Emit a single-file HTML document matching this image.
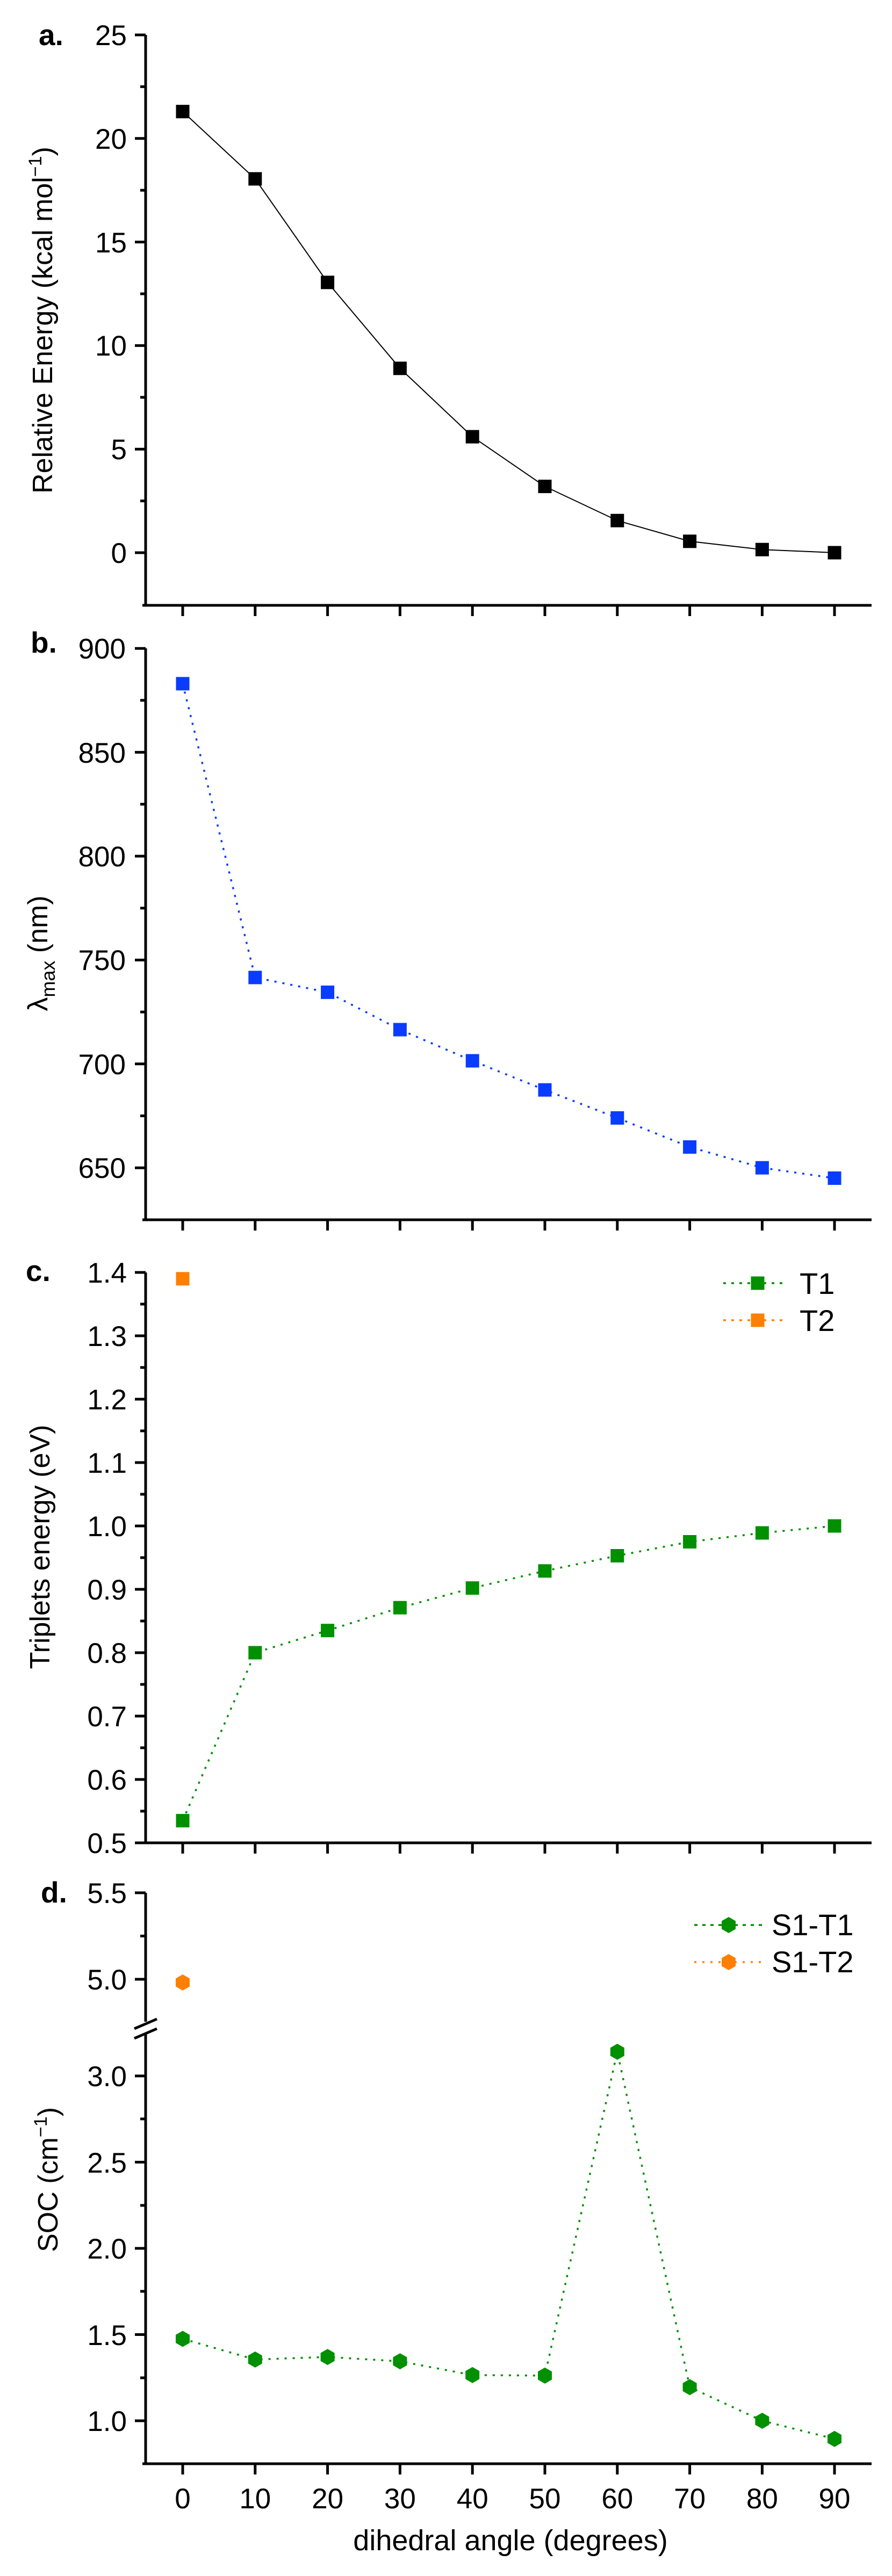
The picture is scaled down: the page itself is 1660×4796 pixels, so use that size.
<!DOCTYPE html>
<html><head><meta charset="utf-8"><style>
html,body{margin:0;padding:0;background:#fff}
svg{display:block}
text{font-family:"Liberation Sans",Arial,sans-serif;fill:#000}
.t{font-size:53px;text-anchor:end}
.x{font-size:53px;text-anchor:middle}
.lb{font-size:55px;font-weight:bold}
.ti{font-size:52px;text-anchor:middle}
.lg{font-size:56px}
</style></head><body>
<svg width="1660" height="4796" viewBox="0 0 1660 4796" xmlns="http://www.w3.org/2000/svg">
<rect width="1660" height="4796" fill="#fff"/>
<g stroke="#000" stroke-width="5" fill="none">
<!-- Panel a axes -->
<path d="M271 65V1127M265 1127H1622"/>
<path d="M251 65H271M251 257.8H271M251 450.6H271M251 643.4H271M251 836.2H271M251 1029H271"/>
<path d="M261 161.4H271M261 354.2H271M261 547H271M261 739.8H271M261 932.6H271"/>
<path d="M340 1127v20M474.8 1127v20M609.6 1127v20M744.4 1127v20M879.2 1127v20M1014 1127v20M1148.8 1127v20M1283.6 1127v20M1418.4 1127v20M1553 1127v20"/>
<!-- Panel b -->
<path d="M271 1207V2271M265 2271H1622"/>
<path d="M251 1207.2H271M251 1400.6H271M251 1594H271M251 1787.4H271M251 1980.8H271M251 2174.2H271"/>
<path d="M261 1303.9H271M261 1497.3H271M261 1690.7H271M261 1884.1H271M261 2077.5H271"/>
<path d="M340 2271v20M474.8 2271v20M609.6 2271v20M744.4 2271v20M879.2 2271v20M1014 2271v20M1148.8 2271v20M1283.6 2271v20M1418.4 2271v20M1553 2271v20"/>
<!-- Panel c -->
<path d="M271 2369V3431M265 3431H1622"/>
<path d="M251 2369H271M251 2487H271M251 2605H271M251 2723H271M251 2841H271M251 2959H271M251 3077H271M251 3195H271M251 3313H271M251 3431H271"/>
<path d="M261 2428H271M261 2546H271M261 2664H271M261 2782H271M261 2900H271M261 3018H271M261 3136H271M261 3254H271M261 3372H271"/>
<path d="M340 3431v20M474.8 3431v20M609.6 3431v20M744.4 3431v20M879.2 3431v20M1014 3431v20M1148.8 3431v20M1283.6 3431v20M1418.4 3431v20M1553 3431v20"/>
<!-- Panel d -->
<path d="M271 3524V3764M271 3786V4587M265 4587H1622"/>
<path d="M250 3777L292 3759M250 3795L292 3777"/>
<path d="M251 3524H271M251 3685H271M261 3604.5H271"/>
<path d="M251 3865H271M251 4025.5H271M251 4186H271M251 4346.5H271M251 4507H271"/>
<path d="M261 3945H271M261 4106H271M261 4266H271M261 4427H271"/>
<path d="M340 4587v20M474.8 4587v20M609.6 4587v20M744.4 4587v20M879.2 4587v20M1014 4587v20M1148.8 4587v20M1283.6 4587v20M1418.4 4587v20M1553 4587v20"/>
</g>

<!-- Panel a data -->
<polyline fill="none" stroke="#000" stroke-width="2" points="340,207.7 474.8,333 609.6,525.8 744.4,685.8 879.2,813.1 1014,905.6 1148.8,969.2 1283.6,1007.8 1418.4,1023.2 1553,1029"/>
<g fill="#000">
<rect x="327.5" y="195.2" width="25" height="25"/><rect x="462.3" y="320.5" width="25" height="25"/><rect x="597.1" y="513.3" width="25" height="25"/><rect x="731.9" y="673.3" width="25" height="25"/><rect x="866.7" y="800.6" width="25" height="25"/><rect x="1001.5" y="893.1" width="25" height="25"/><rect x="1136.3" y="956.7" width="25" height="25"/><rect x="1271.1" y="995.3" width="25" height="25"/><rect x="1405.9" y="1010.7" width="25" height="25"/><rect x="1540.5" y="1016.5" width="25" height="25"/>
</g>

<!-- Panel b data -->
<polyline fill="none" stroke="#0a3cff" stroke-width="3.5" stroke-dasharray="4 11" points="340,1272.9 474.8,1819.9 609.6,1847.4 744.4,1917 879.2,1975 1014,2029.2 1148.8,2081.4 1283.6,2135.5 1418.4,2174.2 1553,2193.5"/>
<g fill="#0a3cff">
<rect x="327.5" y="1260.4" width="25" height="25"/><rect x="462.3" y="1807.4" width="25" height="25"/><rect x="597.1" y="1834.9" width="25" height="25"/><rect x="731.9" y="1904.5" width="25" height="25"/><rect x="866.7" y="1962.5" width="25" height="25"/><rect x="1001.5" y="2016.7" width="25" height="25"/><rect x="1136.3" y="2068.9" width="25" height="25"/><rect x="1271.1" y="2123" width="25" height="25"/><rect x="1405.9" y="2161.7" width="25" height="25"/><rect x="1540.5" y="2181" width="25" height="25"/>
</g>

<!-- Panel c data -->
<polyline fill="none" stroke="#009000" stroke-width="3.5" stroke-dasharray="4 11" points="340,3389.7 474.8,3077 609.6,3035.7 744.4,2993.2 879.2,2956.6 1014,2924.8 1148.8,2896.5 1283.6,2870.5 1418.4,2854 1553,2841"/>
<g fill="#009000">
<rect x="327.5" y="3377.2" width="25" height="25"/><rect x="462.3" y="3064.5" width="25" height="25"/><rect x="597.1" y="3023.2" width="25" height="25"/><rect x="731.9" y="2980.7" width="25" height="25"/><rect x="866.7" y="2944.1" width="25" height="25"/><rect x="1001.5" y="2912.3" width="25" height="25"/><rect x="1136.3" y="2884" width="25" height="25"/><rect x="1271.1" y="2858" width="25" height="25"/><rect x="1405.9" y="2841.5" width="25" height="25"/><rect x="1540.5" y="2828.5" width="25" height="25"/>
</g>
<rect x="327.5" y="2368.3" width="25" height="25" fill="#ff8000"/>
<!-- legend c -->
<line x1="1346" y1="2389" x2="1462" y2="2389" stroke="#009000" stroke-width="3.5" stroke-dasharray="5 10"/>
<rect x="1397.5" y="2376.5" width="25" height="25" fill="#009000"/>
<text class="lg" x="1488" y="2409">T1</text>
<line x1="1346" y1="2458" x2="1462" y2="2458" stroke="#ff8000" stroke-width="3.5" stroke-dasharray="5 10"/>
<rect x="1397.5" y="2445.5" width="25" height="25" fill="#ff8000"/>
<text class="lg" x="1488" y="2478">T2</text>

<!-- Panel d data -->
<defs><path id="hx" d="M0,-15L13,-7.5L13,7.5L0,15L-13,7.5L-13,-7.5Z"/></defs>
<polyline fill="none" stroke="#009000" stroke-width="3.5" stroke-dasharray="4 11" points="340,4354.5 474.8,4393 609.6,4388.2 744.4,4396.3 879.2,4421.9 1014,4422.9 1148.8,3820 1283.6,4444.4 1418.4,4507 1553,4540.7"/>
<g fill="#009000">
<use href="#hx" x="340" y="4354.5"/><use href="#hx" x="474.8" y="4393"/><use href="#hx" x="609.6" y="4388.2"/><use href="#hx" x="744.4" y="4396.3"/><use href="#hx" x="879.2" y="4421.9"/><use href="#hx" x="1014" y="4422.9"/><use href="#hx" x="1148.8" y="3820"/><use href="#hx" x="1283.6" y="4444.4"/><use href="#hx" x="1418.4" y="4507"/><use href="#hx" x="1553" y="4540.7"/>
</g>
<use href="#hx" x="340" y="3691" fill="#ff8000"/>
<!-- legend d -->
<line x1="1292" y1="3584" x2="1421" y2="3584" stroke="#009000" stroke-width="3.5" stroke-dasharray="6 9"/>
<use href="#hx" x="1356" y="3584" fill="#009000"/>
<text class="lg" x="1436" y="3603">S1-T1</text>
<line x1="1292" y1="3653" x2="1421" y2="3653" stroke="#ff8000" stroke-width="3.5" stroke-dasharray="4 11"/>
<use href="#hx" x="1356" y="3653" fill="#ff8000"/>
<text class="lg" x="1436" y="3672">S1-T2</text>

<!-- panel labels -->
<text class="lb" x="72" y="84">a.</text>
<text class="lb" x="57" y="1215">b.</text>
<text class="lb" x="48" y="2385">c.</text>
<text class="lb" x="76" y="3542">d.</text>

<!-- tick labels a -->
<text class="t" x="236" y="84">25</text>
<text class="t" x="236" y="277">20</text>
<text class="t" x="236" y="470">15</text>
<text class="t" x="236" y="662">10</text>
<text class="t" x="236" y="855">5</text>
<text class="t" x="236" y="1048">0</text>
<!-- b -->
<text class="t" x="234" y="1226">900</text>
<text class="t" x="234" y="1420">850</text>
<text class="t" x="234" y="1613">800</text>
<text class="t" x="234" y="1806">750</text>
<text class="t" x="234" y="2000">700</text>
<text class="t" x="234" y="2193">650</text>
<!-- c -->
<text class="t" x="236" y="2388">1.4</text>
<text class="t" x="236" y="2506">1.3</text>
<text class="t" x="236" y="2624">1.2</text>
<text class="t" x="236" y="2742">1.1</text>
<text class="t" x="236" y="2860">1.0</text>
<text class="t" x="236" y="2978">0.9</text>
<text class="t" x="236" y="3096">0.8</text>
<text class="t" x="236" y="3214">0.7</text>
<text class="t" x="236" y="3332">0.6</text>
<text class="t" x="236" y="3450">0.5</text>
<!-- d -->
<text class="t" x="236" y="3543">5.5</text>
<text class="t" x="236" y="3704">5.0</text>
<text class="t" x="236" y="3884">3.0</text>
<text class="t" x="236" y="4045">2.5</text>
<text class="t" x="236" y="4205">2.0</text>
<text class="t" x="236" y="4366">1.5</text>
<text class="t" x="236" y="4526">1.0</text>
<!-- x labels -->
<text class="x" x="340" y="4670">0</text>
<text class="x" x="474.8" y="4670">10</text>
<text class="x" x="609.6" y="4670">20</text>
<text class="x" x="744.4" y="4670">30</text>
<text class="x" x="879.2" y="4670">40</text>
<text class="x" x="1014" y="4670">50</text>
<text class="x" x="1148.8" y="4670">60</text>
<text class="x" x="1283.6" y="4670">70</text>
<text class="x" x="1418.4" y="4670">80</text>
<text class="x" x="1553" y="4670">90</text>
<text class="x" x="950" y="4748" style="font-size:54px">dihedral angle (degrees)</text>

<!-- axis titles -->
<text class="ti" transform="translate(97,596) rotate(-90)">Relative Energy (kcal mol<tspan dy="-20" font-size="34">−1</tspan><tspan dy="20">)</tspan></text>
<text class="ti" transform="translate(88,1775) rotate(-90)">λ<tspan dy="14" font-size="36">max</tspan><tspan dy="-14"> (nm)</tspan></text>
<text class="ti" transform="translate(92,2880) rotate(-90)">Triplets energy (eV)</text>
<text class="ti" transform="translate(107,4058) rotate(-90)">SOC (cm<tspan dy="-20" font-size="34">−1</tspan><tspan dy="20">)</tspan></text>
</svg>
</body></html>
